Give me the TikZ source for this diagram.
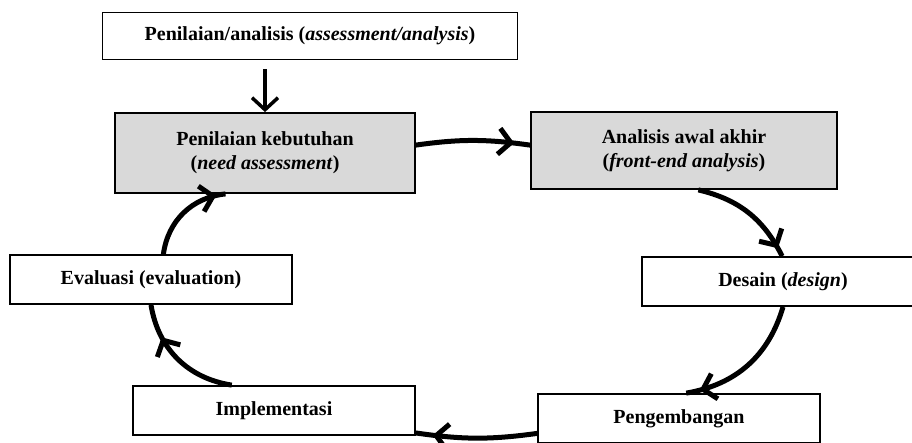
\documentclass[tikz,border=0pt]{standalone}
\usepackage{fontspec}
\setmainfont{Liberation Serif}
\usetikzlibrary{positioning}
\usetikzlibrary{arrows.meta}
\usetikzlibrary{decorations.markings}
\tikzstyle{stage}=[rectangle,draw=black,line width=1.8pt,fill=white,minimum width=282pt,minimum height=49pt,inner sep=0pt,align=center,font=\fontsize{20}{24}\selectfont\bfseries]
\tikzstyle{graystage}=[stage,fill=black!15]
\tikzstyle{topedge}=[draw,line width=3.5pt,->]
\tikzstyle{cycleedge}=[draw,line width=5pt]

\begin{document}
\begin{tikzpicture}[x=1pt,y=1pt,>={Straight Barb[length=12pt,width=26pt]}]
    \useasboundingbox (0,0) rectangle (912,-443);
    % First we draw the boxes
    \node[stage,minimum width=415pt,minimum height=47pt] (top) at (310,-36) {Penilaian/analisis (\textit{assessment/analysis})};
    \foreach \pos/\name/\label/\bw/\bh in {{(265,-153)/need/{Penilaian kebutuhan\\(\textit{need assessment})}/300/80}, {(684,-150.5)/front/{Analisis awal akhir\\(\textit{front-end analysis})}/306/77}}
        \node[graystage,minimum width=\bw pt,minimum height=\bh pt] (\name) at \pos {\label};
    \foreach \pos/\name/\label in {{(151,-279.5)/eval/{Evaluasi (evaluation)}}, {(783,-281.5)/desain/{Desain (\textit{design})}}, {(679,-418.5)/peng/{Pengembangan}}, {(274,-410.5)/impl/{Implementasi}}}
        \node[stage] (\name) at \pos {\label};

    % Arrow into the cycle
    \path[topedge, shorten <=9pt] (need.north |- top.south) -- (need.north);

    % Connect the boxes round the cycle
    \foreach \source/\dest/\bend/\where in {need.3/front.178/8/0.86, front.290/desain.92/25/0.92, desain.south/peng.74/32/0.9, peng.186/impl.351/8/0.86, impl.149/eval.south/36/0.72, eval.64/need.226/38/0.9}
        \path[cycleedge, decoration={markings, mark=at position \where with {\arrow{>}}}, postaction={decorate}] (\source) to[bend left=\bend] (\dest);
\end{tikzpicture}
\end{document}
